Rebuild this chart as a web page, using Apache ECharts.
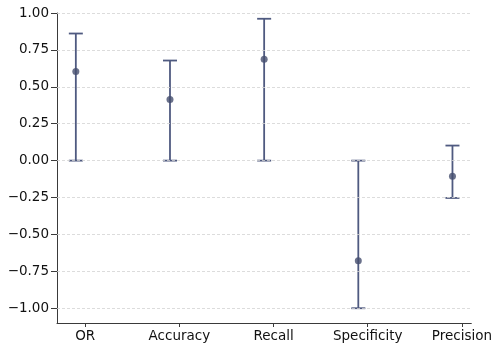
<!DOCTYPE html>
<html>
<head>
<meta charset="utf-8">
<script src="https://cdn.jsdelivr.net/npm/echarts@6/dist/echarts.min.js"></script>
<style>
  html, body { margin: 0; padding: 0; background: #fff; }
  #chart { width: 495px; height: 343px; }
</style>
</head>
<body>
<div id="chart"></div>
<script>
// Metric names along the x axis
const categories = ['OR', 'Accuracy', 'Recall', 'Specificity', 'Precision'];
// Point estimates and interval bounds for each metric
const estimates = [0.603, 0.414, 0.687, -0.678, -0.106];
const lowerBounds = [0.0, 0.0, 0.0, -1.0, -0.253];
const upperBounds = [0.861, 0.678, 0.961, 0.0, 0.102];
// Y tick positions
const yTicks = [-1.0, -0.75, -0.5, -0.25, 0.0, 0.25, 0.5, 0.75, 1.0];
// category labels sit slightly right of the marks
const labelShift = 0.1;
const xTicks = categories.map((_, i) => i + labelShift);

const lineColor = '#4f5a80';
const pointColor = '#454d6e';
const font = '"DejaVu Sans", sans-serif';

const fmtY = v => (v < 0 ? '\u2212' : '') + Math.abs(v).toFixed(2);

const chart = echarts.init(document.getElementById('chart'), null, { renderer: 'canvas' });

chart.setOption({
  animation: false,
  grid: { left: 57, right: 22, top: 13, bottom: 20, containLabel: false },
  xAxis: {
    type: 'value',
    min: -0.2,
    max: 4.2,
    splitLine: { show: false },
    axisLine: { show: true, onZero: false, lineStyle: { color: '#3a3a3a', width: 1 } },
    axisTick: { show: true, customValues: xTicks, length: 4, lineStyle: { color: '#3a3a3a' } },
    axisLabel: {
      customValues: xTicks,
      formatter: v => categories[Math.round(v - labelShift)] || '',
      color: '#111', fontSize: 13.5, fontFamily: font, margin: 6
    }
  },
  yAxis: {
    type: 'value',
    min: -1.1,
    max: 1.0,
    splitLine: { show: false },
    axisLine: { show: true, onZero: false, lineStyle: { color: '#3a3a3a', width: 1 } },
    axisTick: { show: true, customValues: yTicks, length: 6, lineStyle: { color: '#3a3a3a' } },
    axisLabel: {
      customValues: yTicks,
      formatter: fmtY,
      color: '#111', fontSize: 13.5, fontFamily: font, margin: 8
    }
  },
  series: [
    {
      // dashed horizontal grid lines at each y tick
      type: 'line',
      data: [],
      silent: true,
      markLine: {
        silent: true,
        symbol: 'none',
        label: { show: false },
        lineStyle: { type: [3, 2], color: '#d3d3d3', width: 0.8 },
        data: yTicks.map(v => ({ yAxis: v }))
      }
    },
    {
      // error bars with caps
      type: 'custom',
      data: categories.map((_, i) => [i, lowerBounds[i], upperBounds[i]]),
      renderItem: (params, api) => {
        const x = api.value(0);
        const lo = api.coord([x, api.value(1)]);
        const hi = api.coord([x, api.value(2)]);
        const half = 7;
        const style = { stroke: lineColor, lineWidth: 1.8 };
        return {
          type: 'group',
          children: [
            { type: 'line', shape: { x1: lo[0], y1: lo[1], x2: hi[0], y2: hi[1] }, style },
            { type: 'line', shape: { x1: lo[0] - half, y1: lo[1], x2: lo[0] + half, y2: lo[1] }, style },
            { type: 'line', shape: { x1: hi[0] - half, y1: hi[1], x2: hi[0] + half, y2: hi[1] }, style }
          ]
        };
      },
      z: 3
    },
    {
      type: 'scatter',
      data: categories.map((_, i) => [i, estimates[i]]),
      symbol: 'circle',
      symbolSize: 7,
      itemStyle: { color: pointColor },
      z: 4
    }
  ]
});
</script>
</body>
</html>
